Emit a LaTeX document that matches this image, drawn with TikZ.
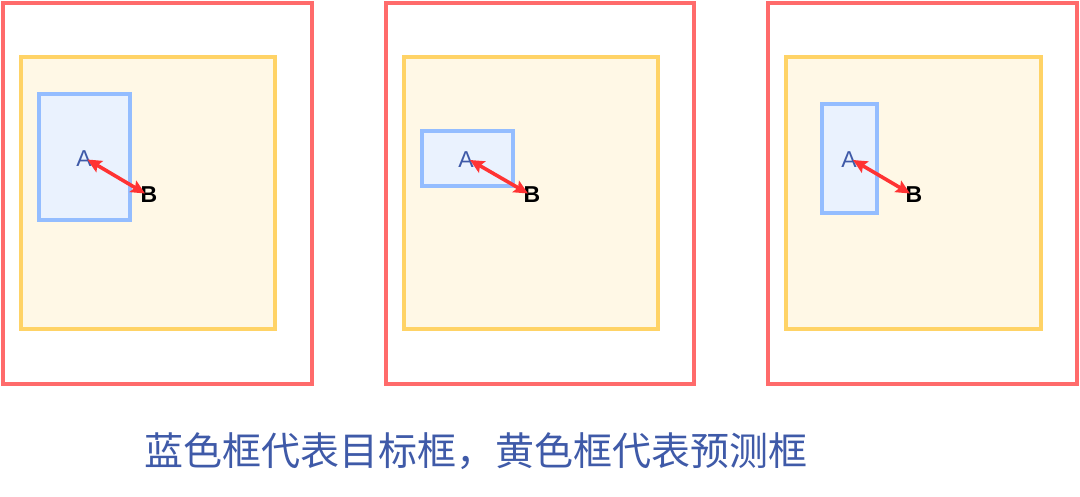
\documentclass[tikz,border=0pt]{standalone}
\usepackage{fontspec}
\setmainfont{Liberation Sans}
\newfontfamily\cjk{Noto Sans CJK SC}
\usetikzlibrary{arrows.meta}
\definecolor{outred}{HTML}{FF6B6B}
\definecolor{ystroke}{HTML}{FFD366}
\definecolor{yfill}{HTML}{FFF8E6}
\definecolor{bstroke}{HTML}{94BDFF}
\definecolor{bfill}{HTML}{EAF2FE}
\definecolor{txtblue}{HTML}{3F5AA8}
\definecolor{arrred}{HTML}{FF3333}
\tikzset{
  outerbox/.style={draw=outred,line width=3.5pt},
  predbox/.style={draw=ystroke,fill=yfill,line width=3.5pt},
  targbox/.style={draw=bstroke,fill=bfill,line width=3.5pt},
  alabel/.style={text=txtblue,font=\fontsize{23}{23}\selectfont,inner sep=0pt},
  blabel/.style={text=black,font=\fontsize{23}{23}\selectfont\bfseries,inner sep=0pt},
  offs/.style={draw=arrred,line width=3.6pt,{Stealth[length=14pt,width=13pt,inset=2.5pt]}-{Stealth[length=14pt,width=13pt,inset=2.5pt]}}
}
\begin{document}
\begin{tikzpicture}[x=1pt,y=-1pt]
\useasboundingbox (0,0) rectangle (1080,497);
% panel 1
\draw[outerbox] (3,3) rectangle (312,384);
\draw[predbox] (21,57) rectangle (275,329);
\draw[targbox] (39,94) rectangle (130,220);
\node[alabel] (a1) at (84,159) {A};
\node[blabel] (b1) at (149,195) {B};
\coordinate (a1e) at (87.5,159.5);
\coordinate (b1e) at (145,193.5);
\draw[offs] (a1e) -- (b1e);
% panel 2
\draw[outerbox] (386,3) rectangle (694,384);
\draw[predbox] (404,57) rectangle (658,329);
\draw[targbox] (422,131) rectangle (513,186);
\node[alabel] (a2) at (466,160) {A};
\node[blabel] (b2) at (532,195) {B};
\coordinate (a2e) at (470,160);
\coordinate (b2e) at (528,193.5);
\draw[offs] (a2e) -- (b2e);
% panel 3
\draw[outerbox] (768,3) rectangle (1077,384);
\draw[predbox] (786,57) rectangle (1041,329);
\draw[targbox] (822,104) rectangle (877,213);
\node[alabel] (a3) at (849,160) {A};
\node[blabel] (b3) at (914,195) {B};
\coordinate (a3e) at (853,160);
\coordinate (b3e) at (910,193.5);
\draw[offs] (a3e) -- (b3e);
% caption
\node[text=txtblue,font=\cjk\fontsize{39}{39}\selectfont,inner sep=0pt] (cap) at (476,451) {蓝色框代表目标框，黄色框代表预测框};
\end{tikzpicture}
\end{document}
